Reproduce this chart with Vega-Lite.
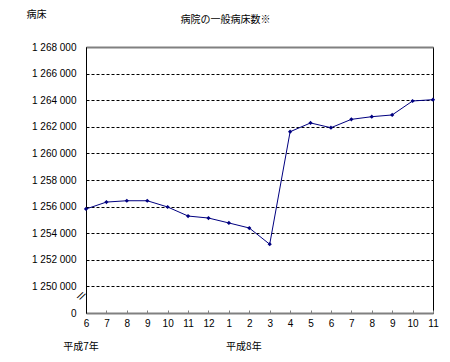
{
  "$schema": "https://vega.github.io/schema/vega-lite/v6.json",
  "autosize": "none",
  "width": 347,
  "height": 266,
  "padding": {"left": 86, "top": 47, "right": 17, "bottom": 49},
  "background": "white",
  "config": {
    "view": {"stroke": "black", "strokeWidth": 1},
    "font": "Liberation Sans"
  },
  "title": {
    "text": "病院の一般病床数※",
    "font": "Noto Sans CJK JP",
    "fontSize": 10,
    "fontWeight": "normal",
    "color": "black",
    "anchor": "middle",
    "dx": -34,
    "offset": -16
  },
  "datasets": {
    "beds": [
      {"ym": "H7.6", "v": 1255820},
      {"ym": "H7.7", "v": 1256340},
      {"ym": "H7.8", "v": 1256440},
      {"ym": "H7.9", "v": 1256440},
      {"ym": "H7.10", "v": 1255970},
      {"ym": "H7.11", "v": 1255290},
      {"ym": "H7.12", "v": 1255140},
      {"ym": "H8.1", "v": 1254770},
      {"ym": "H8.2", "v": 1254390},
      {"ym": "H8.3", "v": 1253170},
      {"ym": "H8.4", "v": 1261630},
      {"ym": "H8.5", "v": 1262290},
      {"ym": "H8.6", "v": 1261930},
      {"ym": "H8.7", "v": 1262560},
      {"ym": "H8.8", "v": 1262760},
      {"ym": "H8.9", "v": 1262890},
      {"ym": "H8.10", "v": 1263940},
      {"ym": "H8.11", "v": 1264040}
    ]
  },
  "layer": [
    {
      "data": {"name": "beds"},
      "mark": {"type": "line", "color": "#000080", "strokeWidth": 1},
      "encoding": {
        "x": {
          "field": "ym", "type": "ordinal", "sort": null,
          "scale": {"type": "point", "padding": 0},
          "axis": {
            "title": null,
            "labelAngle": 0,
            "labelExpr": "split(datum.value, '.')[1]",
            "labelFont": "Liberation Sans",
            "labelFontSize": 10,
            "labelColor": "black",
            "labelPadding": 8,
            "labelOverlap": false,
            "domainColor": "#808080",
            "domainWidth": 2,
            "tickColor": "#808080",
            "tickSize": -3,
            "grid": false
          }
        },
        "y": {
          "field": "v", "type": "quantitative",
          "scale": {"domain": [1248000, 1268000], "nice": false, "zero": false},
          "axis": {
            "title": "病床",
            "titleFont": "Noto Sans CJK JP",
            "titleFontSize": 10,
            "titleFontWeight": "normal",
            "titleColor": "black",
            "titleAngle": 0,
            "titleX": -50,
            "titleY": -33,
            "titleAlign": "center",
            "titleBaseline": "middle",
            "values": [1248000, 1250000, 1252000, 1254000, 1256000, 1258000, 1260000, 1262000, 1264000, 1266000, 1268000],
            "tickCount": 20,
            "labelExpr": "datum.value == 1248000 ? '0' : '1 ' + format((datum.value - 1000000) / 1000, '03d') + ' 000'",
            "labelFont": "Liberation Sans",
            "labelFontSize": 10,
            "labelColor": "black",
            "labelPadding": 10,
            "labelOverlap": false,
            "ticks": false,
            "domainColor": "black",
            "domainWidth": 1,
            "grid": true,
            "gridColor": {"condition": {"test": "datum.value == 1268000", "value": "#808080"}, "value": "black"},
            "gridWidth": {"condition": {"test": "datum.value == 1268000", "value": 2}, "value": 1},
            "gridDash": {"condition": {"test": "datum.value == 1268000", "value": []}, "value": [3, 2]},
            "gridOpacity": {"condition": {"test": "datum.value == 1248000", "value": 0}, "value": 1}
          }
        }
      }
    },
    {
      "data": {"name": "beds"},
      "mark": {"type": "point", "shape": "diamond", "filled": true, "color": "#000080", "size": 18, "opacity": 1},
      "encoding": {
        "x": {"field": "ym", "type": "ordinal", "sort": null},
        "y": {"field": "v", "type": "quantitative"}
      }
    },
    {
      "data": {"values": [{"ym": "H7.6", "v": 1249000, "t": "//"}]},
      "mark": {"type": "text", "font": "Liberation Sans", "fontSize": 11, "angle": 30, "dx": -6, "color": "black"},
      "encoding": {
        "x": {"field": "ym", "type": "ordinal", "sort": null},
        "y": {"field": "v", "type": "quantitative"},
        "text": {"field": "t"}
      }
    },
    {
      "data": {"values": [{"ym": "H7.6", "v": 1248000, "t": "平成7年"}]},
      "mark": {"type": "text", "font": "Noto Sans CJK JP", "fontSize": 10, "dx": -5, "dy": 34, "color": "black"},
      "encoding": {
        "x": {"field": "ym", "type": "ordinal", "sort": null},
        "y": {"field": "v", "type": "quantitative"},
        "text": {"field": "t"}
      }
    },
    {
      "data": {"values": [{"ym": "H8.1", "v": 1248000, "t": "平成8年"}]},
      "mark": {"type": "text", "font": "Noto Sans CJK JP", "fontSize": 10, "dx": 15, "dy": 34, "color": "black"},
      "encoding": {
        "x": {"field": "ym", "type": "ordinal", "sort": null},
        "y": {"field": "v", "type": "quantitative"},
        "text": {"field": "t"}
      }
    }
  ]
}
